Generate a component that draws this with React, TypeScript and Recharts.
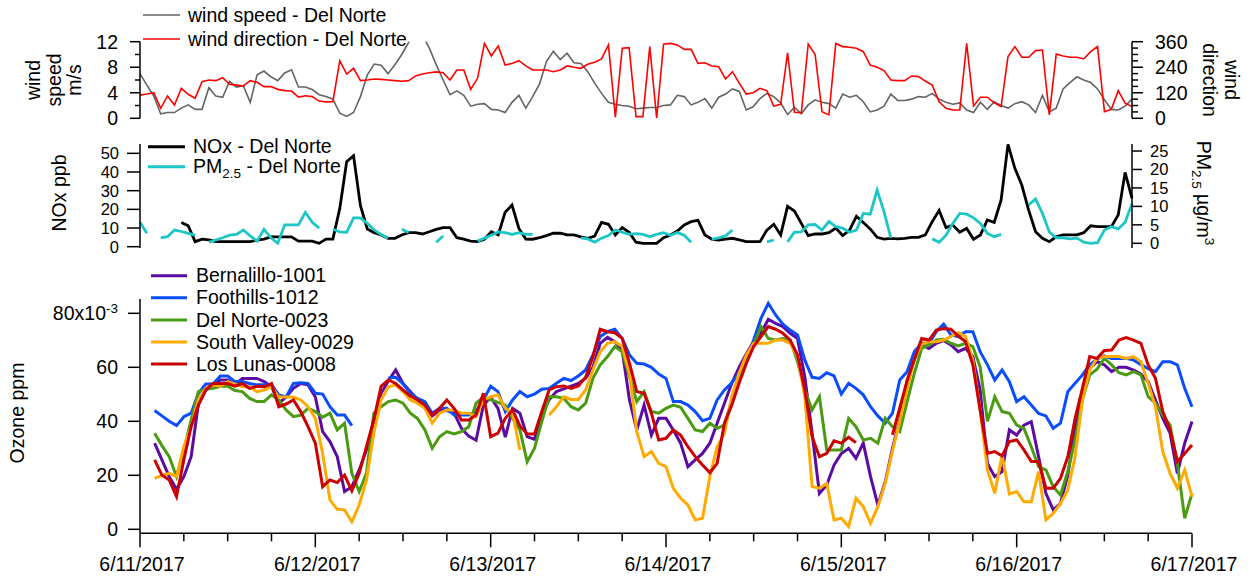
import React from 'react'
import { LineChart, Line, XAxis, YAxis } from 'recharts'

const FONT = '"Liberation Sans", Arial, sans-serif'
const FS = 19.5

// hourly values, hour 0 = 6/11/2017 00:00
const windSpeed = [
  7.0, 5.2, 3.5, 0.7, 0.9, 0.9, 1.6, 2.1, 1.4, 1.4,
  4.8, 3.5, 3.3, 5.8, 4.9, 5.1, 2.5, 6.8, 7.4, 6.5,
  5.9, 7.1, 7.6, 4.9, 4.9, 4.5, 3.7, 3.4, 3.0, 0.8,
  0.3, 0.9, 3.4, 6.8, 8.5, 8.3, 7.0, 8.4, 10.0, 11.9,
  13.5, 13.0, 11.0, 8.4, 6.0, 3.7, 4.3, 3.6, 1.9, 2.2,
  2.3, 1.4, 1.3, 0.9, 2.5, 3.6, 1.6, 3.4, 5.4, 8.9,
  10.5, 9.2, 10.2, 8.7, 8.6, 7.3, 5.5, 3.9, 2.5, 2.2,
  2.0, 1.9, 1.5, 1.6, 1.7, 1.7, 2.0, 2.1, 3.6, 3.4,
  2.1, 2.5, 3.1, 1.6, 3.3, 3.8, 4.6, 4.2, 1.3, 1.8,
  3.1, 3.9, 3.4, 2.4, 0.6, 1.7, 0.7, 2.1, 2.9, 2.5,
  2.3, 1.6, 3.8, 3.3, 3.6, 2.6, 1.0, 1.3, 1.9, 3.8,
  2.8, 2.8, 3.0, 3.4, 3.3, 3.9, 3.0, 2.5, 2.2, 2.4,
  1.3, 0.9, 2.5, 1.4, 2.6, 2.0, 1.6, 2.3, 2.6, 2.1,
  0.9, 3.6, 1.0, 1.6, 4.6, 5.6, 6.5, 6.0, 5.6, 4.6,
  2.9, 1.4, 1.3, 1.9, 3.0,
]

const windDir = [
  109, 114, 120, 47, 105, 62, 141, 113, 94, 172,
  180, 177, 191, 160, 156, 152, 177, 169, 149, 149,
  136, 130, 128, 100, 106, 102, 81, 77, 78, 271,
  208, 235, 177, 180, 185, 183, 180, 177, 174, 177,
  199, 208, 214, 218, 214, 180, 227, 227, 136, 188,
  352, 293, 340, 250, 258, 271, 246, 227, 227, 227,
  219, 227, 246, 240, 235, 254, 263, 279, 345, 5,
  329, 332, 8, 8, 337, 0, 348, 352, 345, 324,
  324, 258, 261, 246, 242, 185, 219, 164, 114, 120,
  141, 130, 58, 66, 308, 28, 26, 349, 300, 31,
  16, 352, 337, 334, 329, 313, 250, 240, 224, 180,
  177, 177, 199, 196, 175, 156, 78, 47, 39, 39,
  352, 58, 99, 99, 73, 55, 290, 337, 287, 287,
  318, 321, 16, 302, 293, 287, 287, 279, 313, 337,
  31, 42, 130, 71, 55,
]

const nox = [
  null, null, null, null, null, null, 13.0, 11.2, 2.7, 4.0,
  3.6, 2.7, 2.7, 2.7, 2.7, 2.7, 2.7, 3.5, 4.1, 5.3,
  5.3, 5.3, 5.3, 3.0, 3.0, 3.0, 1.8, 4.1, 4.1, 20.5,
  45.5, 48.7, 22, 9.5, 7.5, 6.3, 4.5, 4.5, 6.3, 7.5,
  7.5, 6.8, 8.0, 9.3, 10.2, 10.2, 4.8, 4.0, 3.0, 2.7,
  4.0, 8.0, 6.3, 18.4, 22.3, 9.8, 4.1, 4.0, 4.8, 5.9,
  7.2, 7.2, 6.3, 6.3, 5.3, 4.5, 5.7, 13.0, 12.0, 6.3,
  10.2, 7.7, 2.4, 1.8, 1.8, 1.8, 4.8, 6.3, 8.4, 11.6,
  13.4, 14.1, 6.3, 4.0, 3.6, 4.0, 4.5, 3.6, 2.7, 2.7,
  2.7, 8.9, 12.0, 6.3, 21.6, 19.1, 12.5, 5.9, 6.8, 6.8,
  7.5, 10.0, 6.0, 8.9, 16.3, 13.0, 9.5, 5.0, 4.1, 4.5,
  4.2, 4.5, 5.0, 5.0, 6.3, 13.4, 19.5, 10.2, 11.6, 7.7,
  9.8, 4.0, 6.3, 14.3, 13.0, 25, 54.8, 42, 33, 19.6,
  8.0, 4.5, 2.7, 5.3, 6.3, 6.3, 6.3, 7.5, 11.2, 10.7,
  10.7, 10.7, 17, 39.8, 25.9,
]

const pm25 = [
  5.7, 2.7, null, 1.5, 1.8, 3.6, 3.2, 2.7, 2.2, null,
  0.3, 0.9, 1.5, 2.2, 2.4, 3.6, 2.0, 0.6, 3.8, 1.5,
  0, 5.0, 5.0, 5.0, 8.4, 5.7, 4.1, null, 3.8, 3.1,
  3.0, 6.9, 6.9, 5.4, 3.6, 2.4, 1.4, null, 3.8, 2.9,
  null, null, null, 0.3, 2.0, null, null, null, null, 0.6,
  1.4, 2.2, 3.1, 2.9, 2.4, 2.9, 2.4, 2.4, null, null,
  null, null, null, null, 1.5, 1.2, 0.3, 1.4, 2.1, 3.6,
  3.0, 2.4, 2.6, 2.4, 1.8, 2.4, 2.9, 2.2, 2.9, 2.2,
  0.3, null, null, 1.1, 1.5, 2.0, 3.6, null, null, null,
  null, 0.4, 0.9, null, 0.4, 3.0, 3.1, 5.0, 5.1, 3.6,
  5.9, 4.5, 4.1, 3.0, 3.6, 8.1, 7.9, 14.4, 8.6, 1.4,
  null, null, null, null, null, 1.2, 0.3, 2.2, 5.4, 8.1,
  7.9, 6.9, 5.4, 2.7, 1.8, 2.4, null, null, null, 10.4,
  12.0, 8.1, 3.1, 1.5, 1.5, 1.2, 1.4, 0.3, 0, 0.2,
  3.6, 4.5, 3.9, 5.7, 10.8,
]

// ozone, hourly, x10^-3 ppm
const bernalillo = [
  null, null, 31.9, 25.7, 19.5, 14.8, 19.5, 26.9, 46.7, 51.6,
  53.5, 55.3, 55.3, 53.5, 55.9, 55.9, 55.9, 54.7, 52.8, 46.7,
  49, 52.2, 54, 53.5, 49, 36.2, 32.5, 26.9, 14, 15.8,
  22, 29.4, 40, 50.4, 55, 59, 54, 51, 48, 46,
  42, 44, 44, 43, 37.4, 34.5, 33, 46, 48.9, 44.8,
  34.1, 44.8, 43, 34.3, 33.3, 42.3, 48, 51, 52, 53,
  54, 56, 60, 68.9, 71.1, 69.5, 66.4, 47.9, 36.8, 46,
  34.9, 41.1, 41.1, 36.8, 31.9, 23.2, 25.7, 28.1, 31.9, 39.3,
  46.7, 54.1, 60, 65, 69.5, 72.6, 77.8, 76.3, 75.1, 72.6,
  70.7, 56.5, 35.6, 13.3, 16.4, 23.8, 28.1, 30, 26.3, 31.9,
  19.5, 9, 17.5, 30, 40.5, 55, 63, 68.3, 67, 68.9,
  69.9, 68.3, 65.8, 67, 64, 51.6, 24.4, 19.5, 21.4, 36.8,
  34.9, 38.6, 39.9, 26.9, 13.3, 7.2, 9.6, 20.1, 37.4, 51,
  59.6, 62.1, 60.9, 58.4, 60, 60, 59, 57.5, 54.7, 47.9,
  41.1, 35.6, 20.7, 31.9, 39.9,
]
const foothills = [
  null, null, 44, 42, 40, 38.4, 41.7, 43, 50.4, 53.8,
  53.8, 56.8, 56.8, 54.7, 54.7, 54, 53.5, 53.5, 53.5, 49.8,
  49, 54, 54.3, 54, 50.4, 50.1, 45.4, 42.3, 42.3, 38.4,
  null, null, null, null, 56, 56.3, 54, 50.4, 48.5, 47.3,
  43, 44.8, 44.8, 42.3, 42.3, 42.3, 43.6, 47.9, 53, 51,
  43.6, 47.9, 51, 49.1, 50.1, 51.9, 52.2, 54.1, 55.9, 55.1,
  56.8, 59, 64.6, 71.4, 73.2, 74.1, 70.7, 64.6, 61.5, 61.2,
  60, 57.5, 55.9, 47.3, 47.3, 46, 43.6, 40.2, 41.1, 47.9,
  51.6, 54.3, 57.8, 62.7, 70.1, 78.1, 83.7, 79.4, 76, 73.8,
  72, 62.7, 56.3, 55.9, 58, 56.8, 50.1, 54.1, 52.2, 49.8,
  45.4, 42, 39.3, 43, 55.3, 58.4, 65.8, 68.9, 68.9, 73.2,
  76, 72, 71.4, 73.2, 73.2, 65.8, 60.9, 55.3, 59, 54.7,
  47.3, 49.1, 46, 42.9, 42, 37.4, 39.3, 51, 54.1, 57.2,
  60.9, 63, 64.2, 63.3, 63.3, 63.3, 62.7, 61, 59.5, 58.4,
  62.1, 62.1, 60.9, 52.2, 45.4,
]
const delNorte = [
  null, null, 35.6, 31, 26.9, 19.5, 29.4, 40.5, 51, 51.9,
  52.2, 53, 53, 51.4, 51, 48.5, 47.3, 47.3, 49.8, 47.9,
  44.2, 41.7, 42.3, 44.8, 43.6, 41.5, 43, 36.8, 39.3, 20.7,
  14, 20.7, 43, 45.4, 47.3, 47.9, 46.7, 43, 41, 36.8,
  30, 34.3, 36.2, 35.3, 36.2, 38, 46.7, 48.9, 48, 47,
  46, 41.1, 36.8, 25, 30, 39.9, 49.1, 49.1, 48.5, 45.4,
  44.2, 46.7, 55.9, 60.9, 64, 67.7, 65.8, 56.5, 47.3, 51,
  43.6, 43, 44.8, 46, 45.2, 41.1, 36.8, 36.2, 39.3, 37.4,
  38.6, 47.9, 55.9, 62.7, 68.3, 75.1, 70.7, 70.1, 70.7, 70.1,
  62.1, 51.6, 44.2, 49.1, 29.4, 29.4, 29.4, 41.1, 38, 33.1,
  33.7, 31.9, 41.1, 38, 36.2, 47.3, 57.8, 67, 68.3, 70.1,
  70.4, 68.9, 67.9, 68.9, 67.7, 60.2, 40, 49.1, 43.6, 43,
  38.6, 37.4, 30.6, 23.2, 22, 15.8, 12.7, 21.4, 33.1, 47.9,
  57.2, 59.3, 63.3, 60.9, 58, 57.2, 58.4, 57.2, 49.1, 46.7,
  42.3, 38.6, 24.4, 4.1, 13.3,
]
const southValley = [
  null, null, 18.9, 20, 20.7, 19.5, 30.6, 38, 47.9, 52.2,
  53.5, 53, 54.7, 53.8, 52.8, 52.8, 51, 51.6, 52.8, 49,
  49, 49, 47.9, 45.4, 41.1, 28.1, 10.9, 7.4, 7.2, 2.8,
  9, 18.3, 35.6, 47.9, 52.8, 53.5, 51, 47.9, 46.7, 44.8,
  39.3, 43, 44.2, 44.2, 43, 43, 41.7, 47.9, 49.1, 49.8,
  44.8, 43, 29.4, null, null, null, 42.3, 45.4, 49.1, 48.1,
  48.1, 51.6, 59, 65.8, 68.9, 69.5, 67.7, 57.8, 36.2, 26.9,
  28.8, 24.4, 23.2, 15.2, 11.5, 9, 3.5, 4.1, 19.5, 30.6,
  35.6, 49.1, 57.8, 64.6, 68.9, 68.9, 68.9, 70.1, 70.1, 68.9,
  64, 49.1, 15.8, 15.2, 17, 3.5, 4.1, 1, 11.5, 8.4,
  2.2, 8.4, 17, 29, 40, 52, 63, 68.5, 69.5, 69.5,
  70.1, 71.4, 72.8, 71.4, 62.7, 44.2, 22, 13.3, 27.5, 13.1,
  14, 10.2, 10.2, 21.4, 3.5, 5.9, 9.6, 14.6, 26.9, 47.9,
  59, 63.3, 64, 64, 64, 63.3, 64, 62.1, 54.1, 45.4,
  28.8, 20.7, 15.2, 22, 12.1,
]
const losLunas = [
  null, null, 25.7, 20.1, 18.3, 12.1, 25.7, 38, 46, 51.6,
  54, 54, 54, 53, 54, 52.2, 53, 52.8, 54, 45.4,
  46.4, 47.9, 43.6, 38, 31.9, 15.8, 18.3, 17.3, 20.1, 14.3,
  20.7, 30.6, 40.5, 53, 55.3, 54, 51.6, 49.4, 47.9, 46,
  42.3, 44.8, 47.9, 44.8, 40.5, 40.5, 42.3, 50.4, 34.3, 35.6,
  41.1, 44.2, 38.3, 35.3, 35.3, 43.6, 51.6, 52.8, 53.1, 52.2,
  53.1, 56.3, 64, 74.1, 73.2, 72.8, 70.7, 61.5, 51, 50.4,
  43, 33.1, 33.7, 36.8, 34.9, 30.6, 26.9, 23.8, 21, 24.4,
  39.3, 46, 54.1, 61.5, 67.7, 71.4, 75.1, 74.1, 72.6, 70.1,
  64.6, 51.6, 34.3, 26.9, 28.1, 32.8, 31.9, 34.1, 32.1, null,
  null, null, null, 35, 45, 55, 63, 70.7, 70.1, 73.8,
  74.4, 74.1, 71.6, 69.5, 60.9, 44.2, 28.1, 28.8, 27.2, 32.5,
  33.1, 29.4, 25.1, 25.1, 15.2, 15.2, 18.9, 26.9, 41.1, 52.2,
  64, 63.3, 66.2, 66.4, 70.1, 71, 70.1, 68.9, 60.9, 55.9,
  43.6, 36.8, 25.1, 28.1, 31.2,
]

const dayLabels = ['6/11/2017', '6/12/2017', '6/13/2017', '6/14/2017', '6/15/2017', '6/16/2017', '6/17/2017']

const windRows = windSpeed.map((v, i) => ({ h: i, speed: v, dir: windDir[i] }))
const airRows = nox.map((v, i) => ({ h: i, nox: v, pm: pm25[i] }))
const ozoneRows = bernalillo.map((v, i) => ({
  h: i,
  bern: v,
  foot: foothills[i],
  deln: delNorte[i],
  sv: southValley[i],
  ll: losLunas[i],
}))

const ozoneSeries = [
  { key: 'bern', name: 'Bernalillo-1001', color: '#5B0BA3' },
  { key: 'foot', name: 'Foothills-1012', color: '#0A4DFF' },
  { key: 'deln', name: 'Del Norte-0023', color: '#4A9A12' },
  { key: 'sv', name: 'South Valley-0029', color: '#FFAA00' },
  { key: 'll', name: 'Los Lunas-0008', color: '#CC0000' },
]

const range = (a: number, b: number, s: number) => {
  const out: number[] = []
  for (let v = a; v <= b + 1e-9; v += s) out.push(v)
  return out
}

type TickCfg = {
  side: 'left' | 'right' | 'bottom'
  majors: number[]
  major: number
  minor: number
  gap: number
  size?: number
  label?: (v: number) => React.ReactNode
}

const makeTick = (cfg: TickCfg) => (props: any) => {
  const { x, y, payload } = props
  const v = payload.value
  const isMajor = cfg.majors.includes(v)
  const len = isMajor ? cfg.major : cfg.minor
  const txt = cfg.label ? cfg.label(v) : String(v)
  const fs = cfg.size || FS
  if (cfg.side === 'bottom') {
    return (
      <g>
        <line x1={x} x2={x} y1={y} y2={y + len} stroke="#000" strokeWidth={1.5} />
        {isMajor && (
          <text x={x + 2} y={y + 37.7} textAnchor="middle" fontFamily={FONT} fontSize={fs} fill="#000">
            {txt}
          </text>
        )}
      </g>
    )
  }
  const d = cfg.side === 'left' ? -1 : 1
  return (
    <g>
      <line x1={x} x2={x + d * len} y1={y} y2={y} stroke="#000" strokeWidth={1.5} />
      {isMajor && (
        <text
          x={x + d * (cfg.major + cfg.gap)}
          y={y}
          dy="0.36em"
          textAnchor={d < 0 ? 'end' : 'start'}
          fontFamily={FONT}
          fontSize={fs}
          fill="#000"
        >
          {txt}
        </text>
      )}
    </g>
  )
}

const axisLine = { stroke: '#000', strokeWidth: 1.5 }

const ozoneLabel = (v: number) =>
  v === 80 ? (
    <>
      80x10
      <tspan dy="-0.55em" fontSize={13.5}>
        -3
      </tspan>
    </>
  ) : (
    String(v)
  )

const T = (p: any) => <text fontFamily={FONT} fontSize={FS} fill="#000" {...p} />

export default function App() {
  return (
    <div style={{ position: 'absolute', left: 0, top: 0, width: 1249, height: 577, background: '#fff' }}>
      {/* wind panel */}
      <div style={{ position: 'absolute', left: 0, top: 0 }}>
        <LineChart width={1249} height={135} data={windRows} margin={{ top: 41.7, bottom: 16.7, left: 80, right: 57 }}>
          <XAxis type="number" dataKey="h" domain={[0, 144]} hide />
          <YAxis
            yAxisId="spd"
            orientation="left"
            type="number"
            width={60}
            domain={[0, 12]}
            allowDataOverflow
            ticks={range(0, 12, 2)}
            interval={0}
            tickLine={false}
            tickSize={0}
            tickMargin={0}
            axisLine={axisLine}
            tick={makeTick({ side: 'left', majors: [0, 4, 8, 12], major: 10, minor: 5, gap: 12 })}
          />
          <YAxis
            yAxisId="dir"
            orientation="right"
            type="number"
            width={60}
            domain={[0, 360]}
            allowDataOverflow
            ticks={range(0, 360, 30)}
            interval={0}
            tickLine={false}
            tickSize={0}
            tickMargin={0}
            axisLine={axisLine}
            tick={makeTick({ side: 'right', majors: [0, 120, 240, 360], major: 11, minor: 6, gap: 12 })}
          />
          <Line yAxisId="spd" dataKey="speed" stroke="#646464" strokeWidth={1.6} dot={false} isAnimationActive={false} />
          <Line yAxisId="dir" dataKey="dir" stroke="#FF0000" strokeWidth={1.6} dot={false} isAnimationActive={false} />
        </LineChart>
      </div>

      {/* NOx / PM2.5 panel */}
      <div style={{ position: 'absolute', left: 0, top: 135 }}>
        <LineChart width={1249} height={130} data={airRows} margin={{ top: 9, bottom: 17, left: 80, right: 57 }}>
          <XAxis type="number" dataKey="h" domain={[0, 144]} hide />
          <YAxis
            yAxisId="nox"
            orientation="left"
            type="number"
            width={60}
            domain={[-0.7, 55]}
            allowDataOverflow
            ticks={range(0, 50, 10)}
            interval={0}
            tickLine={false}
            tickSize={0}
            tickMargin={0}
            axisLine={axisLine}
            tick={makeTick({ side: 'left', majors: range(0, 50, 10), major: 13, minor: 13, gap: 8, size: 16.5 })}
          />
          <YAxis
            yAxisId="pm"
            orientation="right"
            type="number"
            width={60}
            domain={[-1.27, 26.9]}
            allowDataOverflow
            ticks={range(0, 25, 5)}
            interval={0}
            tickLine={false}
            tickSize={0}
            tickMargin={0}
            axisLine={axisLine}
            tick={makeTick({ side: 'right', majors: range(0, 25, 5), major: 10, minor: 10, gap: 8, size: 16.5 })}
          />
          <Line yAxisId="nox" dataKey="nox" stroke="#000" strokeWidth={2.8} dot={false} isAnimationActive={false} />
          <Line yAxisId="pm" dataKey="pm" stroke="#1CC6C6" strokeWidth={2.8} dot={false} isAnimationActive={false} />
        </LineChart>
      </div>

      {/* ozone panel */}
      <div style={{ position: 'absolute', left: 0, top: 255 }}>
        <LineChart width={1249} height={322} data={ozoneRows} margin={{ top: 44, bottom: 3.7, left: 80, right: 57 }}>
          <XAxis
            type="number"
            dataKey="h"
            domain={[0, 144]}
            height={40}
            ticks={range(0, 144, 6)}
            interval={0}
            tickLine={false}
            tickSize={0}
            tickMargin={0}
            axisLine={axisLine}
            tick={makeTick({
              side: 'bottom',
              majors: range(0, 144, 24),
              major: 14,
              minor: 8,
              gap: 0,
              label: (v) => dayLabels[Math.round(v / 24)],
            })}
          />
          <YAxis
            orientation="left"
            type="number"
            width={60}
            domain={[-1.48, 85.3]}
            allowDataOverflow
            ticks={range(0, 80, 20)}
            interval={0}
            tickLine={false}
            tickSize={0}
            tickMargin={0}
            axisLine={axisLine}
            tick={makeTick({ side: 'left', majors: range(0, 80, 20), major: 12, minor: 12, gap: 10, label: ozoneLabel })}
          />
          {ozoneSeries.map((s) => (
            <Line key={s.key} dataKey={s.key} stroke={s.color} strokeWidth={3} dot={false} isAnimationActive={false} />
          ))}
        </LineChart>
      </div>

      {/* titles and legends */}
      <svg width={1249} height={577} style={{ position: 'absolute', left: 0, top: 0, pointerEvents: 'none' }}>
        <T transform="translate(40,80) rotate(-90)" textAnchor="middle">wind</T>
        <T transform="translate(60.5,80) rotate(-90)" textAnchor="middle">speed</T>
        <T transform="translate(81,80) rotate(-90)" textAnchor="middle">m/s</T>
        <T transform="translate(1225,80) rotate(90)" textAnchor="middle">wind</T>
        <T transform="translate(1203,80) rotate(90)" textAnchor="middle">direction</T>
        <T transform="translate(66,193) rotate(-90)" textAnchor="middle">NOx ppb</T>
        <T transform="translate(1197,193) rotate(90)" textAnchor="middle">
          PM
          <tspan fontSize={13.5} dy={5}>
            2.5
          </tspan>
          <tspan dy={-5}> µg/m</tspan>
          <tspan fontSize={13.5} dy={-8}>
            3
          </tspan>
        </T>
        <T transform="translate(23.5,413) rotate(-90)" textAnchor="middle">Ozone ppm</T>

        <line x1={143} x2={180} y1={15} y2={15} stroke="#646464" strokeWidth={1.6} />
        <T x={188} y={22}>wind speed - Del Norte</T>
        <line x1={143} x2={180} y1={39} y2={39} stroke="#FF0000" strokeWidth={1.6} />
        <T x={188} y={46}>wind direction - Del Norte</T>

        <line x1={148} x2={185} y1={146.7} y2={146.7} stroke="#000" strokeWidth={3} />
        <T x={193} y={152.7}>NOx - Del Norte</T>
        <line x1={148} x2={185} y1={166.7} y2={166.7} stroke="#1CC6C6" strokeWidth={3} />
        <T x={193} y={172.7}>
          PM
          <tspan fontSize={13.5} dy={5}>
            2.5
          </tspan>
          <tspan dy={-5}> - Del Norte</tspan>
        </T>

        {ozoneSeries.map((s, i) => (
          <g key={s.key}>
            <line x1={151} x2={187} y1={275.7 + i * 22.1} y2={275.7 + i * 22.1} stroke={s.color} strokeWidth={3} />
            <T x={196} y={282.3 + i * 22.1}>
              {s.name}
            </T>
          </g>
        ))}
      </svg>
    </div>
  )
}
